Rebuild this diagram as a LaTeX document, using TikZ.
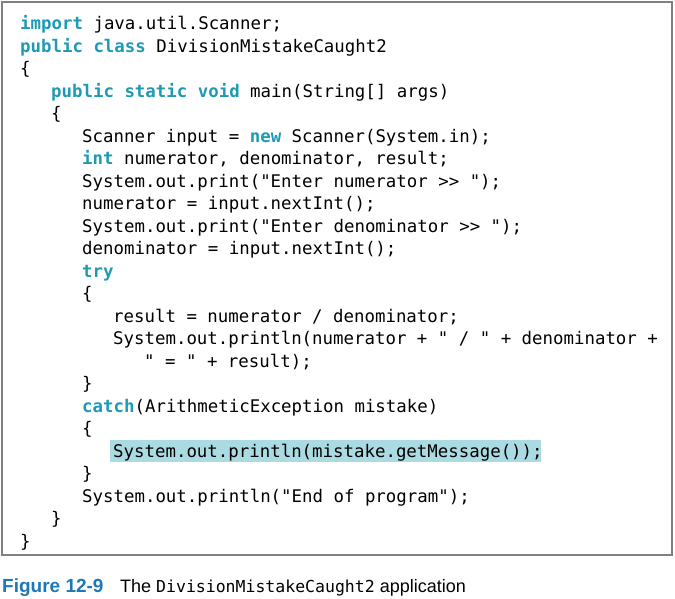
\documentclass[tikz,border=0pt]{standalone}
\usepackage{fontspec}
\setmonofont{DejaVu Sans Mono}
\setsansfont{Liberation Sans}
\definecolor{kw}{HTML}{1E9AB4}
\definecolor{hl}{HTML}{AADAE2}
\definecolor{cap}{HTML}{1E78B8}
\newcommand{\kw}[1]{\textbf{\color{kw}#1}}
\begin{document}
\begin{tikzpicture}[x=1pt,y=1pt,
  codeline/.style={anchor=base west,inner sep=0pt,font=\fontsize{17.4}{20}\ttfamily}]
\useasboundingbox (0,0) rectangle (675,599);
\fill[hl] (110,599-440) rectangle (541,599-462);
\draw[draw=black!50,line width=1.6pt] (2,599-2) rectangle (672,599-555);
\def\L#1#2#3{\node[codeline] (l#1) at (#2,{599-(30+22.5*#1)}) {#3};}
\L{0}{20}{\kw{import} java.util.Scanner;}
\L{1}{20}{\kw{public class} DivisionMistakeCaught2}
\L{2}{20}{\{}
\L{3}{51}{\kw{public static void} main(String[] args)}
\L{4}{51}{\{}
\L{5}{82}{Scanner input = \kw{new} Scanner(System.in);}
\L{6}{82}{\kw{int} numerator, denominator, result;}
\L{7}{82}{System.out.print("Enter numerator >> ");}
\L{8}{82}{numerator = input.nextInt();}
\L{9}{82}{System.out.print("Enter denominator >> ");}
\L{10}{82}{denominator = input.nextInt();}
\L{11}{82}{\kw{try}}
\L{12}{82}{\{}
\L{13}{113}{result = numerator / denominator;}
\L{14}{113}{System.out.println(numerator + " / " + denominator +}
\L{15}{144}{" = " + result);}
\L{16}{82}{\}}
\L{17}{82}{\kw{catch}(ArithmeticException mistake)}
\L{18}{82}{\{}
\L{19}{113}{System.out.println(mistake.getMessage());}
\L{20}{82}{\}}
\L{21}{82}{System.out.println("End of program");}
\L{22}{51}{\}}
\L{23}{20}{\}}
\node[anchor=base west,inner sep=0pt,font=\fontsize{19}{22}\sffamily\bfseries,text=cap] (fig) at (2,599-593) {Figure 12-9};
\node[anchor=base west,inner sep=0pt,font=\fontsize{18}{22}\sffamily] (captxt) at (120,599-593) {The {\fontsize{16.5}{20}\ttfamily DivisionMistakeCaught2} application};
\end{tikzpicture}
\end{document}
